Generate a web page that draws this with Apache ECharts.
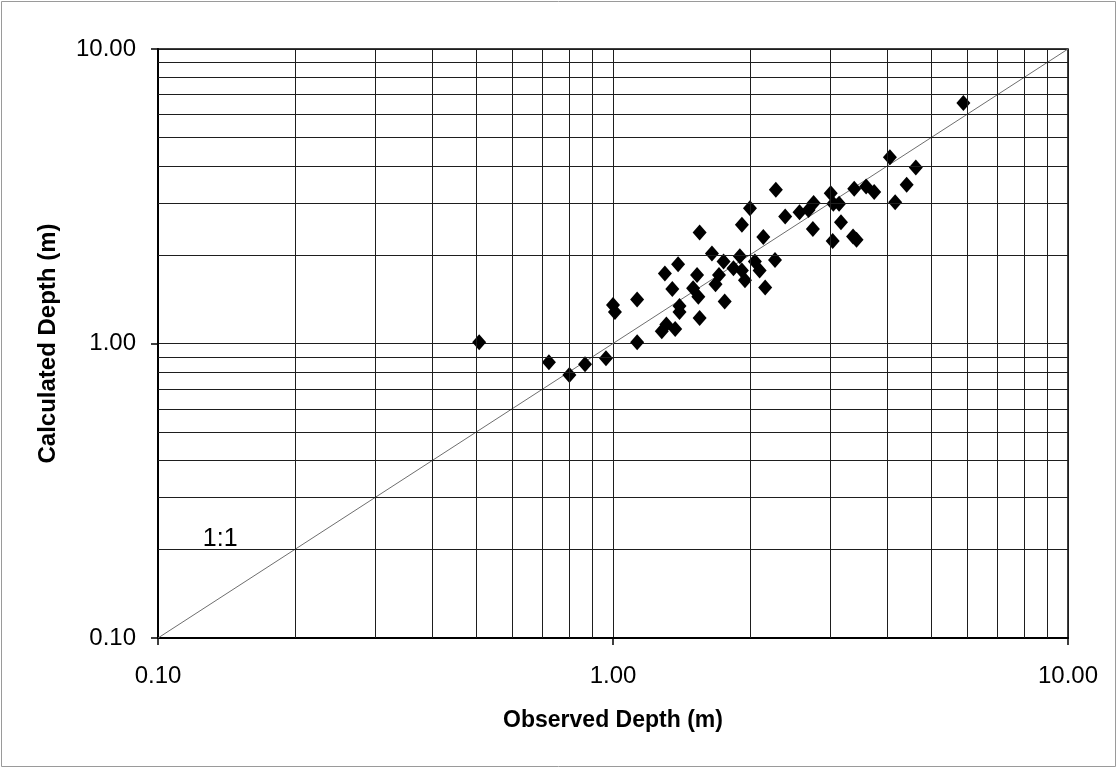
<!DOCTYPE html>
<html>
<head>
<meta charset="utf-8">
<script src="https://cdn.jsdelivr.net/npm/echarts@6/dist/echarts.min.js"></script>
<style>
  html, body { margin: 0; padding: 0; background: #ffffff; }
  #chart { width: 1117px; height: 768px; }
</style>
</head>
<body>
<div id="chart"></div>
<script>
// Observed vs calculated flow depth (m), one entry per measurement
const observedDepth = [
  5.89, 4.06, 4.63, 4.42, 4.17, 2.28, 2.00, 1.92, 1.55, 2.39,
  2.57, 2.69, 2.76, 3.01, 3.05, 3.14, 3.39, 3.60, 3.75, 2.75,
  3.17, 3.04, 3.37, 3.43, 2.14, 1.65, 1.90, 1.75, 2.05, 2.27,
  1.84, 1.92, 1.95, 2.10, 2.16, 1.71, 1.68, 1.53, 1.39, 1.30,
  1.35, 1.50, 1.54, 1.76, 1.40, 1.40, 1.55, 1.13, 1.00, 1.01,
  1.28, 1.31, 1.37, 1.13, 0.508, 0.723, 0.802, 0.868, 0.965
];
const calculatedDepth = [
  6.56, 4.29, 3.96, 3.46, 3.02, 3.33, 2.88, 2.53, 2.38, 2.70,
  2.79, 2.84, 3.00, 3.24, 2.98, 2.98, 3.35, 3.41, 3.27, 2.45,
  2.58, 2.23, 2.31, 2.25, 2.30, 2.02, 1.98, 1.90, 1.90, 1.92,
  1.80, 1.77, 1.64, 1.77, 1.55, 1.71, 1.59, 1.71, 1.86, 1.73,
  1.53, 1.54, 1.44, 1.39, 1.34, 1.28, 1.22, 1.41, 1.35, 1.28,
  1.10, 1.16, 1.12, 1.01, 1.01, 0.863, 0.781, 0.850, 0.891
];

// Axis range (log scale) and the in-between gridline values
const axisMin = 0.1;
const axisMax = 10;
const minorGridValues = [0.2, 0.3, 0.4, 0.5, 0.6, 0.7, 0.8, 0.9, 2, 3, 4, 5, 6, 7, 8, 9];

// Line of perfect agreement and its caption
const equalityLine = [[0.1, 0.1], [10, 10]];
const equalityCaption = '1:1';
const equalityCaptionAt = [0.137, 0.217];

const points = observedDepth.map((x, i) => [x, calculatedDepth[i]]);

const FONT = "'Liberation Sans', Arial, Helvetica, sans-serif";
const GRID_COLOR = '#1e1e1e';

const chart = echarts.init(document.getElementById('chart'), null, { renderer: 'canvas' });

const logAxis = (name, extra) => Object.assign({
  type: 'log',
  logBase: 10,
  min: axisMin,
  max: axisMax,
  name: name,
  nameLocation: 'middle',
  axisLine: { show: true, onZero: false, lineStyle: { color: '#000', width: 2 } },
  axisTick: { show: true, inside: false, length: 7, lineStyle: { color: '#000', width: 1.5 } },
  splitLine: { show: true, lineStyle: { color: GRID_COLOR, width: 1 } },
  minorTick: { show: false },
  minorSplitLine: { show: false }
}, extra);

chart.setOption({
  animation: false,
  backgroundColor: '#ffffff',
  grid: {
    left: 158, right: 49, top: 49, bottom: 130,
    show: true, borderColor: '#000', borderWidth: 1.5, backgroundColor: 'transparent'
  },
  xAxis: logAxis('Observed Depth (m)', {
    nameGap: 71,
    nameTextStyle: { fontFamily: FONT, fontWeight: 'bold', fontSize: 23, color: '#000' },
    axisLabel: {
      fontFamily: FONT, fontSize: 24, color: '#000', margin: 26,
      formatter: v => Number(v).toFixed(2)
    }
  }),
  yAxis: logAxis('Calculated Depth (m)', {
    nameGap: 98,
    nameTextStyle: { fontFamily: FONT, fontWeight: 'bold', fontSize: 24, color: '#000' },
    axisLabel: {
      fontFamily: FONT, fontSize: 24, color: '#000', margin: 22,
      formatter: v => Number(v).toFixed(2)
    }
  }),
  graphic: [{
    type: 'rect',
    shape: { x: 1.5, y: 1.5, width: 1114, height: 765 },
    style: { fill: 'none', stroke: '#9a9a9a', lineWidth: 1 },
    silent: true
  }],
  series: [
    {
      type: 'line',
      data: equalityLine,
      symbol: 'none',
      silent: true,
      z: 2,
      lineStyle: { color: '#6e6e6e', width: 1 },
      markLine: {
        silent: true,
        symbol: ['none', 'none'],
        label: { show: false },
        lineStyle: { color: GRID_COLOR, width: 1, type: 'solid' },
        data: minorGridValues.map(v => ({ xAxis: v }))
          .concat(minorGridValues.map(v => ({ yAxis: v })))
      },
      markPoint: {
        silent: true,
        symbol: 'circle',
        symbolSize: 0,
        label: {
          show: true,
          position: 'inside',
          formatter: equalityCaption,
          fontFamily: FONT,
          fontSize: 25,
          color: '#000'
        },
        data: [{ coord: equalityCaptionAt }]
      }
    },
    {
      type: 'scatter',
      data: points,
      symbol: 'diamond',
      symbolSize: [14, 16],
      z: 3,
      itemStyle: { color: '#000', opacity: 1, borderWidth: 0 }
    }
  ]
});
</script>
</body>
</html>
